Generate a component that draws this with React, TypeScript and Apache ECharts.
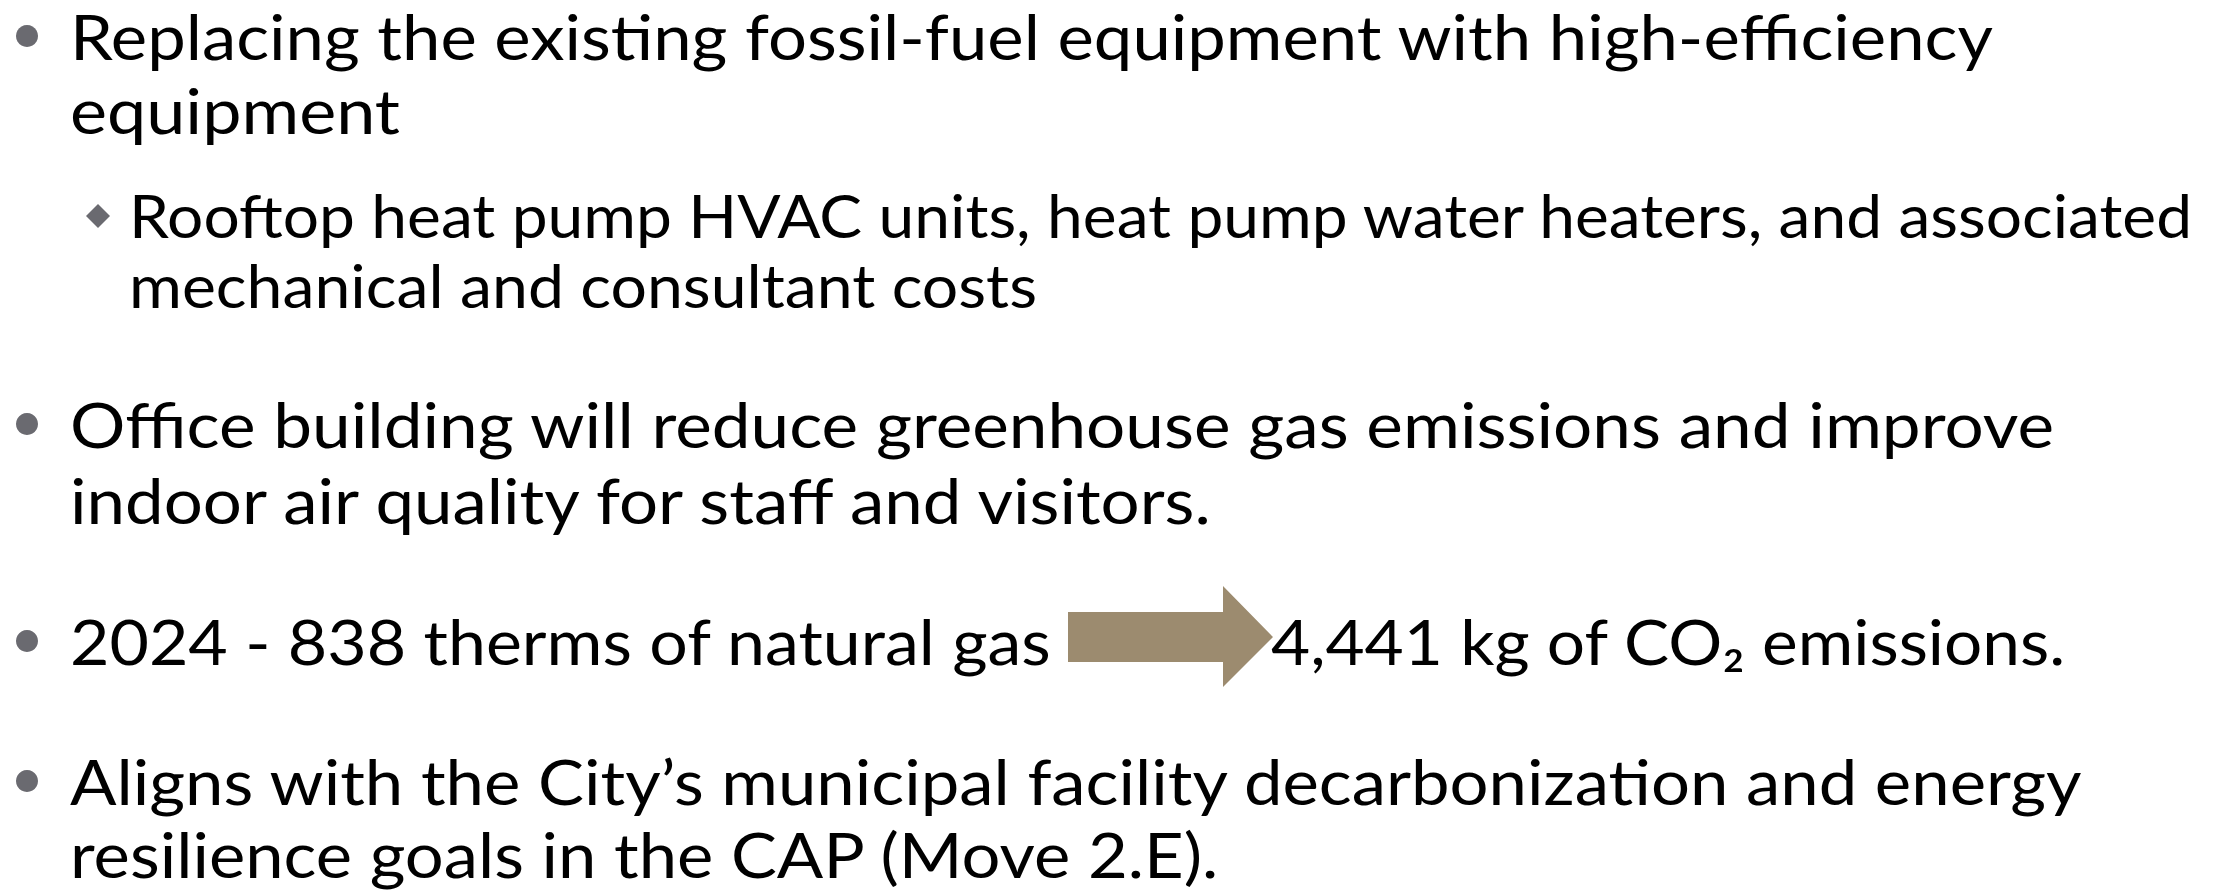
import React, { useEffect, useRef } from "react";
import * as echarts from "echarts";

const W = 2223;
const H = 891;
const FONT_FAMILY = 'Lato, "Noto Sans", "DejaVu Sans", sans-serif';

// Slide text
const bullet1Lines = ["Replacing the existing fossil-fuel equipment with high-efficiency", "equipment"];
const subBulletLines = ["Rooftop heat pump HVAC units, heat pump water heaters, and associated", "mechanical and consultant costs"];
const bullet2Lines = ["Office building will reduce greenhouse gas emissions and improve", "indoor air quality for staff and visitors."];
const bullet3Before = "2024 - 838 therms of natural gas";
const bullet3After = "4,441 kg of CO\u2082 emissions.";
const bullet4Lines = ["Aligns with the City\u2019s municipal facility decarbonization and energy", "resilience goals in the CAP (Move 2.E)."];

const TEXT_COLOR = "#000000";
const BULLET_COLOR = "#6a6a70";
const ARROW_COLOR = "#9c8b6f";

export default function App() {
  const ref = useRef<HTMLDivElement>(null);

  useEffect(() => {
    document.body.style.margin = "0";
    const chart = echarts.init(ref.current!, null, { renderer: "svg", width: W, height: H });
    const ctx = document.createElement("canvas").getContext("2d")!;
    const measure = (t: string, size: number) => {
      ctx.font = `${size}px ${FONT_FAMILY}`;
      return ctx.measureText(t).width;
    };
    const BASE_K = 0.387;
    const elements: any[] = [];

    const addText = (text: string, left: number, right: number, baseline: number, size: number) => {
      const natural = measure(text, size);
      const sx = natural > 0 ? (right - left) / natural : 1;
      elements.push({
        type: "text",
        x: left,
        y: baseline - BASE_K * size,
        scaleX: sx,
        silent: true,
        style: {
          text,
          x: 0,
          y: 0,
          font: `${size}px ${FONT_FAMILY}`,
          fill: TEXT_COLOR,
          lineHeight: size,
          align: "left",
          verticalAlign: "middle",
          textAlign: "left",
          textVerticalAlign: "middle",
        },
      });
    };
    const addDot = (cy: number) => {
      elements.push({ type: "circle", silent: true, shape: { cx: 27, cy, r: 11 }, style: { fill: BULLET_COLOR } });
    };

    const MAIN = 62;
    const SUB = 60;
    const LX = 70;
    const SX = 129;

    // Bullet 1
    addDot(36);
    addText(bullet1Lines[0], LX, 1994, 60, MAIN);
    addText(bullet1Lines[1], LX, 400, 134, MAIN);
    // Sub-bullet
    elements.push({
      type: "polygon",
      silent: true,
      shape: { points: [[98, 204], [110, 216], [98, 228], [86, 216]] },
      style: { fill: BULLET_COLOR },
    });
    addText(subBulletLines[0], SX, 2195, 238, SUB);
    addText(subBulletLines[1], SX, 1037, 308, SUB);
    // Bullet 2
    addDot(424);
    addText(bullet2Lines[0], LX, 2056, 448, MAIN);
    addText(bullet2Lines[1], LX, 1220, 524, MAIN);
    // Bullet 3
    addDot(641);
    addText(bullet3Before, LX, 1052, 665, MAIN);
    elements.push({
      type: "polygon",
      silent: true,
      shape: {
        points: [[1068, 612], [1223, 612], [1223, 586], [1273, 637], [1223, 687], [1223, 662], [1068, 662]],
      },
      style: { fill: ARROW_COLOR },
    });
    addText(bullet3After, 1271, 2067, 665, MAIN);
    // Bullet 4
    addDot(781);
    addText(bullet4Lines[0], LX, 2085, 805, MAIN);
    addText(bullet4Lines[1], LX, 1220, 878, MAIN);

    chart.setOption({
      animation: false,
      backgroundColor: "#ffffff",
      graphic: { elements },
    });
    return () => chart.dispose();
  }, []);

  return (
    <div
      ref={ref}
      style={{ position: "fixed", left: 0, top: 0, width: W, height: H, background: "#ffffff" }}
    />
  );
}
